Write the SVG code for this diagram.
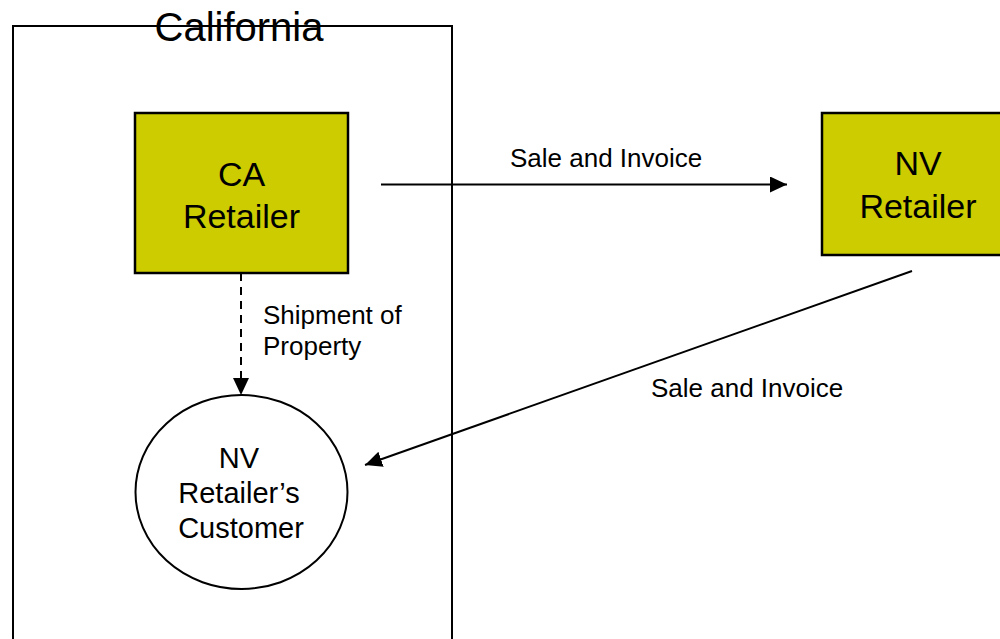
<svg xmlns="http://www.w3.org/2000/svg" width="1000" height="639" viewBox="0 0 1000 639">
  <style>
    text { font-family: "Liberation Sans", Arial, sans-serif; fill: #000; }
    .big { font-size: 34px; text-anchor: middle; }
    .mid { font-size: 29px; text-anchor: middle; }
    .lbl { font-size: 26px; }
    .box { fill: #CCCC00; stroke: #000; stroke-width: 2.5; }
    .edge { fill: none; stroke: #000; stroke-width: 2; }
  </style>
  <defs>
    <marker id="arrow" viewBox="0 0 10 10" refX="10" refY="5" markerWidth="8.5" markerHeight="8" markerUnits="strokeWidth" orient="auto" preserveAspectRatio="none">
      <path d="M0,0 L10,5 L0,10 Z" fill="#000"/>
    </marker>
  </defs>
  <rect width="1000" height="639" fill="#fff"/>

  <!-- state boundary -->
  <g id="california">
    <rect x="13" y="26" width="439" height="640" fill="none" stroke="#000" stroke-width="2"/>
    <text x="239" y="41" style="font-size:40px;text-anchor:middle">California</text>
  </g>

  <g id="ca-retailer">
    <rect class="box" x="135" y="113" width="213" height="160"/>
    <text class="big" x="241.5" y="186">CA</text>
    <text class="big" x="241.5" y="228">Retailer</text>
  </g>

  <g id="nv-retailer">
    <rect class="box" x="822" y="113" width="192" height="142"/>
    <text class="big" x="918" y="175">NV</text>
    <text class="big" x="918" y="218">Retailer</text>
  </g>

  <g id="nv-customer">
    <ellipse cx="241.5" cy="492" rx="106" ry="97" fill="#fff" stroke="#000" stroke-width="2"/>
    <text class="mid" x="239" y="468">NV</text>
    <text class="mid" x="239" y="503">Retailer’s</text>
    <text class="mid" x="241" y="538">Customer</text>
  </g>

  <g id="connectors">
    <line class="edge" x1="381" y1="184.5" x2="787" y2="184.5" marker-end="url(#arrow)"/>
    <line class="edge" x1="241" y1="273" x2="241" y2="395" stroke-dasharray="8,6" marker-end="url(#arrow)"/>
    <line class="edge" x1="912" y1="271" x2="365" y2="465" marker-end="url(#arrow)"/>
    <text class="lbl" x="510" y="167">Sale and Invoice</text>
    <text class="lbl" x="263" y="324">Shipment of</text>
    <text class="lbl" x="263" y="355">Property</text>
    <text class="lbl" x="651" y="397">Sale and Invoice</text>
  </g>
</svg>
